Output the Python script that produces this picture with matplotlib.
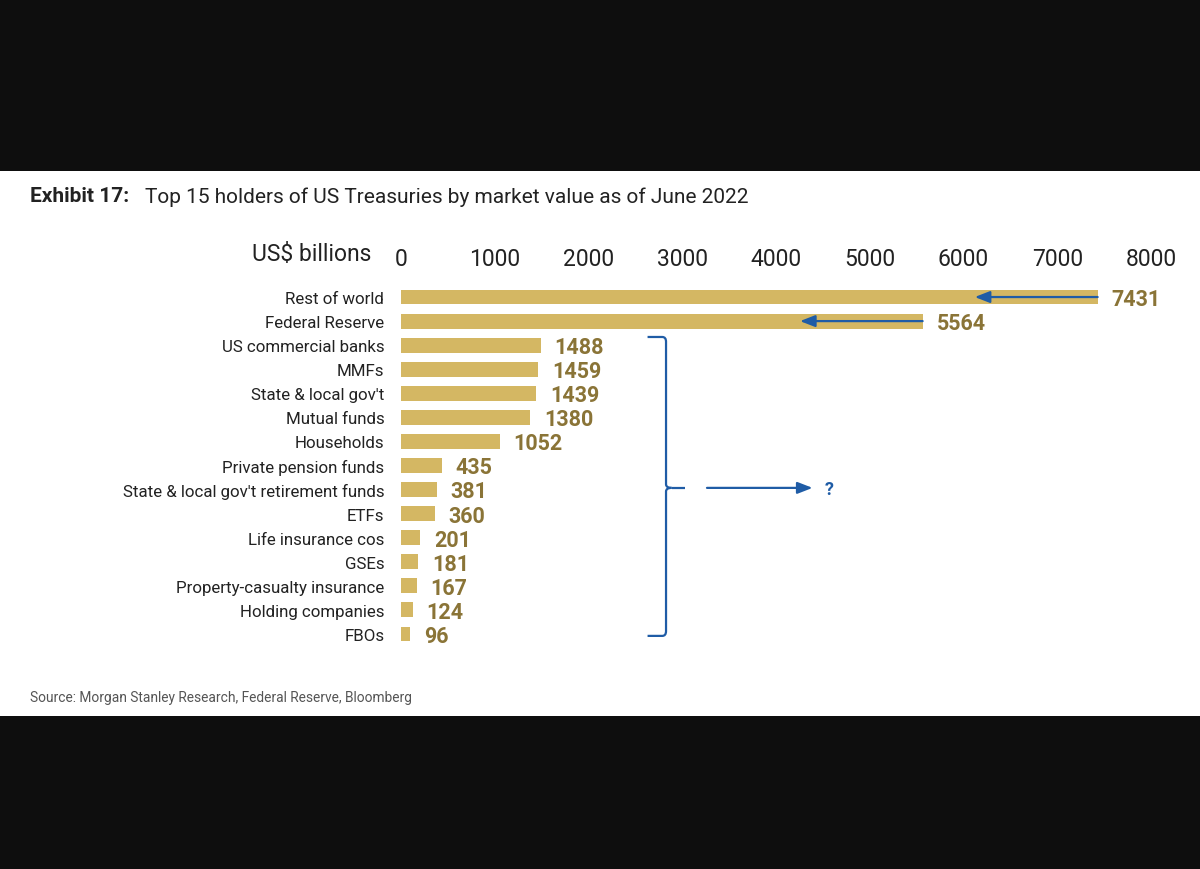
import matplotlib
matplotlib.use("Agg")
import matplotlib.pyplot as plt
from matplotlib.patches import Rectangle
from matplotlib.path import Path
from matplotlib.patches import PathPatch
from matplotlib import font_manager as fm

categories = ["Rest of world", "Federal Reserve", "US commercial banks", "MMFs",
              "State & local gov't", "Mutual funds", "Households",
              "Private pension funds", "State & local gov't retirement funds",
              "ETFs", "Life insurance cos", "GSEs", "Property-casualty insurance",
              "Holding companies", "FBOs"]
values = [7431, 5564, 1488, 1459, 1439, 1380, 1052, 435, 381, 360, 201, 181, 167, 124, 96]
ticks = [0, 1000, 2000, 3000, 4000, 5000, 6000, 7000, 8000]
arrow_targets = [6120, 4256]   # where the shrink arrows point for the first two bars

names = {f.name for f in fm.fontManager.ttflist}
narrow = "Liberation Sans Narrow" if "Liberation Sans Narrow" in names else "Roboto"
plt.rcParams['font.family'] = [narrow, 'DejaVu Sans']

BAR = '#d4b763'
VAL = '#8a7437'
BLUE = '#1f5ca6'

fig = plt.figure(figsize=(12, 8.7), dpi=100, facecolor='#0e0e0e')
fig.patches.append(Rectangle((0, 1 - 717 / 870), 1, (717 - 172) / 870,
                             transform=fig.transFigure, facecolor='white',
                             edgecolor='none', zorder=-5))

ax = fig.add_axes([401 / 1200, 1 - 647 / 870, 750 / 1200, 361 / 870])
ax.set_facecolor('none')
y = list(range(len(categories)))
ax.barh(y, values, height=0.62, color=BAR, zorder=2)
ax.set_xlim(0, 8000)
ax.set_ylim(len(categories) - 0.5, -0.5)

ax.xaxis.tick_top()
ax.set_xticks(ticks)
ax.set_xticklabels([str(t) for t in ticks], fontsize=16.5, color='#222222')
ax.tick_params(axis='x', length=0, pad=11)
ax.set_yticks(y)
ax.set_yticklabels(categories, fontsize=12.2, color='#222222')
ax.tick_params(axis='y', length=0, pad=12)
for s in ax.spines.values():
    s.set_visible(False)

ax.text(-30 / 0.09375, -1.8, "US$ billions", ha='right', va='center', fontsize=16.5,
        color='#222222', transform=ax.transData, clip_on=False)
for v, yi in zip(values, y):
    ax.text(v + 150, yi + 0.08, f"{v}", ha='left', va='center', fontsize=15.5,
            fontweight='bold', color=VAL)

# arrows on top two bars
for yi, (v, t) in enumerate(zip(values[:2], arrow_targets)):
    ax.annotate("", xy=(t, yi), xytext=(v, yi),
                arrowprops=dict(arrowstyle='-|>,head_length=0.9,head_width=0.35',
                                color=BLUE, lw=1.6, shrinkA=0, shrinkB=0), zorder=3)

# bracket
bx0, bx1 = 2630, 2827
ytop, ybot, ymid = 1.66, 14.08, 7.93
verts = [(bx0, ytop), (bx1 - 40, ytop), (bx1, ytop), (bx1, ytop + 0.2),
         (bx1, ymid - 0.15), (bx1, ymid), (bx1 + 60, ymid)]
codes = [Path.MOVETO, Path.LINETO, Path.CURVE3, Path.CURVE3,
         Path.LINETO, Path.CURVE3, Path.CURVE3]
ax.add_patch(PathPatch(Path(verts, codes), fill=False, edgecolor=BLUE, lw=1.6, clip_on=False))
verts2 = [(bx1 + 60, ymid), (bx1, ymid), (bx1, ymid + 0.15),
          (bx1, ybot - 0.2), (bx1, ybot), (bx1 - 40, ybot), (bx0, ybot)]
codes2 = [Path.MOVETO, Path.CURVE3, Path.CURVE3, Path.LINETO,
          Path.CURVE3, Path.CURVE3, Path.LINETO]
ax.add_patch(PathPatch(Path(verts2, codes2), fill=False, edgecolor=BLUE, lw=1.6, clip_on=False))
ax.plot([bx1 + 60, bx1 + 200], [ymid, ymid], color=BLUE, lw=1.6, solid_capstyle='butt')

ax.annotate("", xy=(4390, ymid), xytext=(3264, ymid),
            arrowprops=dict(arrowstyle='-|>,head_length=0.9,head_width=0.35',
                            color=BLUE, lw=1.6, shrinkA=0, shrinkB=0))
ax.text(4520, ymid + 0.05, "?", ha='left', va='center', fontsize=13,
        fontweight='bold', color=BLUE)

# title and source
fig.text(30 / 1200, 1 - 197 / 870, "Exhibit 17:", fontsize=15, fontweight='bold',
         color='#222222', ha='left', va='center', family=['Roboto', 'DejaVu Sans'])
fig.text(145 / 1200, 1 - 197 / 870, "Top 15 holders of US Treasuries by market value as of June 2022",
         fontsize=15, color='#222222', ha='left', va='center', family=['Roboto', 'DejaVu Sans'])
fig.text(30 / 1200, 1 - 698 / 870, "Source: Morgan Stanley Research, Federal Reserve, Bloomberg",
         fontsize=9.9, color='#555555', ha='left', va='center', family=['Roboto', 'DejaVu Sans'])

fig.savefig("out.png", dpi=100, facecolor=fig.get_facecolor())
